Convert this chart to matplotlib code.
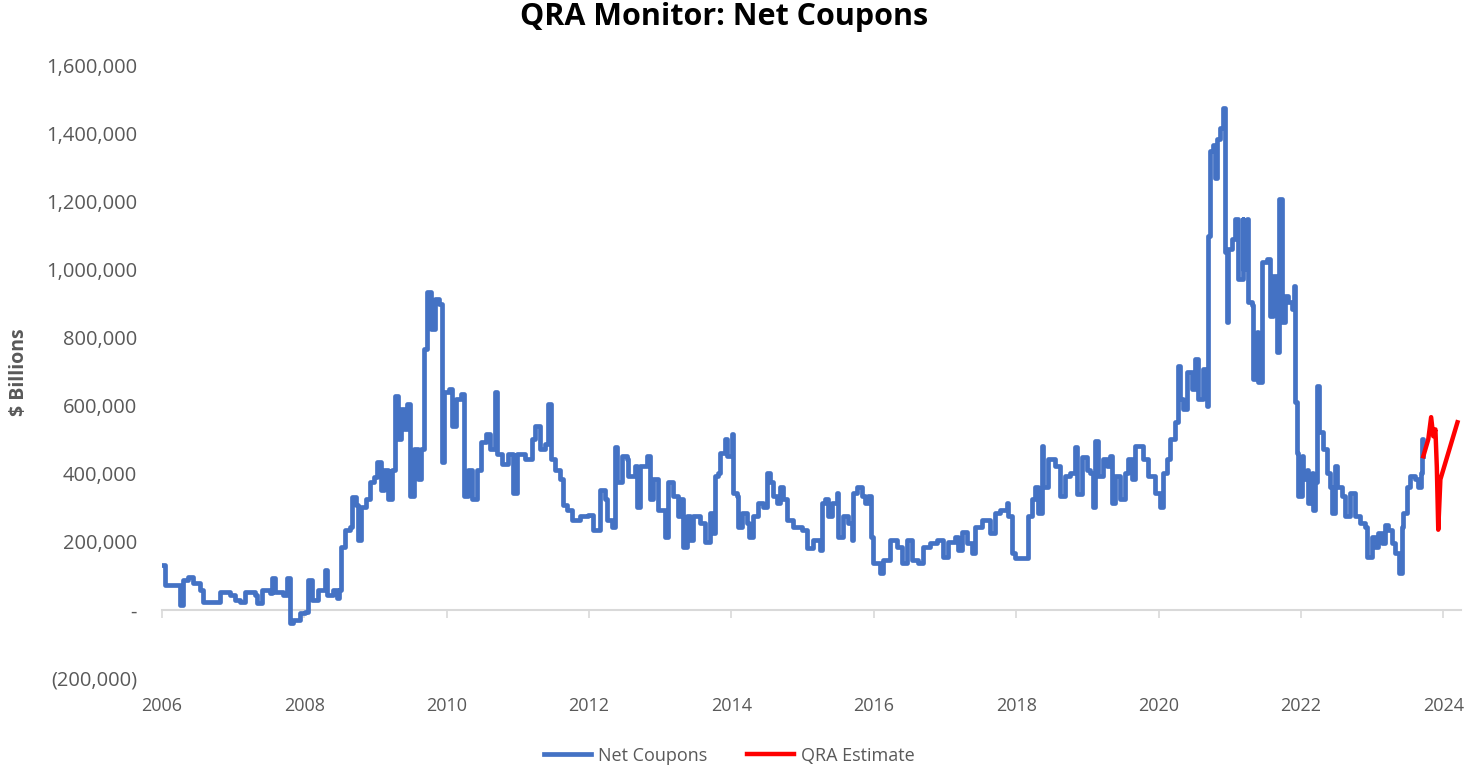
import matplotlib
matplotlib.use("Agg")
import matplotlib.pyplot as plt
from matplotlib.ticker import FuncFormatter
import numpy as np

plt.rcParams['font.family'] = ['Open Sans', 'DejaVu Sans']

# Net coupons, decimal year and value in thousands
net_years = [
    2006.02, 2006.04, 2006.21, 2006.25, 2006.30, 2006.37, 2006.44, 2006.53, 2006.58, 2006.77,
    2006.81, 2006.96, 2007.03, 2007.10, 2007.17, 2007.31, 2007.33, 2007.41, 2007.52, 2007.55,
    2007.59, 2007.70, 2007.76, 2007.80, 2007.84, 2007.94, 2008.01, 2008.05, 2008.11, 2008.19,
    2008.29, 2008.32, 2008.40, 2008.46, 2008.49, 2008.52, 2008.57, 2008.64, 2008.67, 2008.73,
    2008.75, 2008.80, 2008.87, 2008.92, 2008.98, 2009.02, 2009.08, 2009.12, 2009.18, 2009.23,
    2009.27, 2009.32, 2009.36, 2009.40, 2009.44, 2009.48, 2009.54, 2009.60, 2009.64, 2009.68,
    2009.72, 2009.78, 2009.84, 2009.89, 2009.93, 2009.96, 2010.03, 2010.07, 2010.13, 2010.20,
    2010.24, 2010.30, 2010.36, 2010.43, 2010.48, 2010.55, 2010.61, 2010.68, 2010.71, 2010.78,
    2010.86, 2010.93, 2010.99, 2011.10, 2011.20, 2011.24, 2011.31, 2011.38, 2011.42, 2011.47,
    2011.52, 2011.59, 2011.63, 2011.69, 2011.76, 2011.87, 2011.99, 2012.05, 2012.15, 2012.22,
    2012.25, 2012.32, 2012.37, 2012.39, 2012.46, 2012.53, 2012.55, 2012.65, 2012.67, 2012.72,
    2012.81, 2012.86, 2012.90, 2012.97, 2013.07, 2013.11, 2013.18, 2013.25, 2013.28, 2013.32,
    2013.38, 2013.42, 2013.46, 2013.56, 2013.63, 2013.70, 2013.74, 2013.77, 2013.81, 2013.84,
    2013.91, 2013.94, 2014.01, 2014.02, 2014.08, 2014.09, 2014.15, 2014.22, 2014.25, 2014.30,
    2014.37, 2014.44, 2014.50, 2014.54, 2014.59, 2014.64, 2014.68, 2014.73, 2014.78, 2014.87,
    2014.99, 2015.06, 2015.15, 2015.25, 2015.27, 2015.32, 2015.36, 2015.41, 2015.48, 2015.50,
    2015.57, 2015.64, 2015.70, 2015.71, 2015.77, 2015.84, 2015.88, 2015.92, 2015.96, 2015.99,
    2016.09, 2016.13, 2016.23, 2016.33, 2016.40, 2016.47, 2016.54, 2016.62, 2016.69, 2016.79,
    2016.89, 2016.97, 2017.04, 2017.14, 2017.18, 2017.24, 2017.31, 2017.38, 2017.42, 2017.52,
    2017.63, 2017.70, 2017.78, 2017.87, 2017.89, 2017.94, 2017.99, 2018.15, 2018.17, 2018.22,
    2018.27, 2018.31, 2018.36, 2018.38, 2018.45, 2018.55, 2018.62, 2018.69, 2018.76, 2018.83,
    2018.86, 2018.93, 2019.00, 2019.04, 2019.08, 2019.11, 2019.15, 2019.22, 2019.28, 2019.32,
    2019.35, 2019.39, 2019.46, 2019.53, 2019.57, 2019.63, 2019.67, 2019.74, 2019.78, 2019.85,
    2019.95, 2020.02, 2020.07, 2020.12, 2020.16, 2020.23, 2020.28, 2020.30, 2020.35, 2020.40,
    2020.47, 2020.51, 2020.56, 2020.63, 2020.68, 2020.70, 2020.73, 2020.77, 2020.80, 2020.82,
    2020.87, 2020.91, 2020.94, 2020.96, 2020.98, 2021.03, 2021.08, 2021.11, 2021.18, 2021.19,
    2021.25, 2021.26, 2021.32, 2021.33, 2021.39, 2021.40, 2021.46, 2021.53, 2021.57, 2021.61,
    2021.67, 2021.69, 2021.74, 2021.78, 2021.82, 2021.88, 2021.91, 2021.92, 2021.94, 2021.96,
    2022.02, 2022.03, 2022.09, 2022.10, 2022.16, 2022.17, 2022.20, 2022.23, 2022.26, 2022.31,
    2022.37, 2022.41, 2022.44, 2022.48, 2022.51, 2022.58, 2022.62, 2022.69, 2022.76, 2022.83,
    2022.90, 2022.93, 2023.00, 2023.04, 2023.09, 2023.14, 2023.18, 2023.23, 2023.28, 2023.32,
    2023.38, 2023.42, 2023.44, 2023.49, 2023.53, 2023.60, 2023.65, 2023.69, 2023.70, 2023.72,
]
net_k = [
    133, 74, 74, 15, 89, 97, 80, 59, 24, 24,
    53, 44, 30, 24, 53, 44, 21, 59, 50, 94,
    53, 44, 94, -38, -30, -9, -6, 89, 30, 59,
    118, 44, 59, 35, 59, 186, 236, 245, 331, 310,
    207, 304, 325, 375, 390, 434, 354, 413, 325, 413,
    629, 502, 590, 531, 605, 334, 472, 384, 472, 768,
    936, 827, 915, 900, 434, 641, 650, 540, 620, 635,
    334, 413, 325, 413, 493, 517, 472, 641, 458, 428,
    458, 345, 458, 443, 502, 540, 472, 487, 605, 443,
    413, 384, 310, 295, 266, 275, 280, 236, 354, 325,
    266, 245, 478, 375, 452, 443, 393, 422, 304, 422,
    452, 325, 384, 295, 215, 375, 334, 275, 325, 186,
    275, 207, 275, 257, 201, 286, 227, 393, 404, 463,
    502, 452, 517, 345, 334, 245, 286, 257, 215, 275,
    316, 304, 404, 375, 334, 316, 363, 325, 266, 245,
    236, 183, 207, 177, 316, 325, 275, 316, 345, 215,
    275, 257, 207, 345, 363, 334, 316, 334, 215, 139,
    109, 148, 207, 186, 139, 207, 148, 139, 186, 198,
    207, 157, 201, 215, 177, 230, 198, 168, 245, 266,
    227, 286, 295, 316, 275, 168, 153, 153, 275, 325,
    363, 286, 481, 363, 443, 422, 334, 393, 404, 478,
    340, 449, 413, 404, 304, 496, 393, 443, 422, 452,
    316, 393, 325, 404, 443, 384, 481, 481, 443, 393,
    345, 304, 404, 443, 502, 552, 717, 620, 590, 700,
    649, 738, 620, 708, 599, 1101, 1349, 1367, 1269, 1384,
    1417, 1476, 1054, 847, 1063, 1092, 1151, 974, 1151, 1004,
    1151, 906, 897, 679, 818, 670, 1024, 1033, 865, 983,
    759, 1210, 847, 924, 906, 886, 954, 611, 463, 334,
    452, 384, 413, 316, 404, 295, 375, 658, 522, 472,
    404, 363, 286, 422, 363, 334, 275, 345, 275, 257,
    245, 157, 215, 186, 227, 198, 251, 236, 198, 168,
    109, 245, 286, 363, 393, 384, 363, 404, 502, 452,
]

# QRA estimate
qra_years = [2023.72, 2023.79, 2023.83, 2023.86, 2023.89, 2023.91, 2023.93, 2023.96, 2024.20]
qra_k = [452, 502, 567, 511, 531, 420, 236, 384, 552]

year_ticks = [2006, 2008, 2010, 2012, 2014, 2016, 2018, 2020, 2022, 2024]
value_ticks = [-200000, 0, 200000, 400000, 600000, 800000, 1000000, 1200000, 1400000, 1600000]

label_grey = '#595959'
axis_grey = '#d9d9d9'


def accounting(v, pos):
    if v == 0:
        return '-'
    if v < 0:
        return f'({abs(v):,.0f})'
    return f'{v:,.0f}'


fig = plt.figure(figsize=(14.74, 7.68), dpi=100)
ax = fig.add_axes([0.1099, 0.1172, 0.8813, 0.797])

ax.plot(net_years, np.array(net_k) * 1000, color='#4472C4', lw=3.4,
        drawstyle='steps-post', label='Net Coupons')
ax.plot(qra_years, np.array(qra_k) * 1000, color='#FF0000', lw=3.2,
        label='QRA Estimate')

ax.set_xlim(2006, 2024.25)
ax.set_ylim(-200000, 1600000)

for side in ['top', 'right', 'left']:
    ax.spines[side].set_visible(False)
ax.spines['bottom'].set_position(('data', 0))
ax.spines['bottom'].set_color(axis_grey)
ax.spines['bottom'].set_linewidth(1.5)
ax.spines['bottom'].set_zorder(0.5)

ax.set_xticks(year_ticks)
ax.tick_params(axis='x', direction='out', length=6, width=1.2, color=axis_grey,
               labelbottom=False)

# year labels sit at the bottom of the plot area, below the zero line
secax = ax.secondary_xaxis(0)
secax.set_xticks(year_ticks)
secax.set_xticklabels([str(y) for y in year_ticks])
secax.spines['bottom'].set_visible(False)
secax.tick_params(length=0, pad=14, labelsize=13, labelcolor=label_grey)

ax.set_yticks(value_ticks)
ax.yaxis.set_major_formatter(FuncFormatter(accounting))
ax.tick_params(axis='y', length=0, pad=18, labelsize=14.5, labelcolor=label_grey)

fig.text(0.013, 0.515, '$ Billions', rotation=90, ha='center', va='center',
         fontsize=14, fontweight='bold', color=label_grey)
fig.text(0.491, 0.978, 'QRA Monitor: Net Coupons', ha='center', va='center',
         fontsize=22, fontweight='bold', color='black')

fig.legend(loc='center', bbox_to_anchor=(0.495, 0.016), ncol=2, frameon=False,
           fontsize=13, labelcolor=label_grey, handlelength=2.6, columnspacing=2.2,
           handletextpad=0.4)

fig.savefig('out.png', dpi=100)
